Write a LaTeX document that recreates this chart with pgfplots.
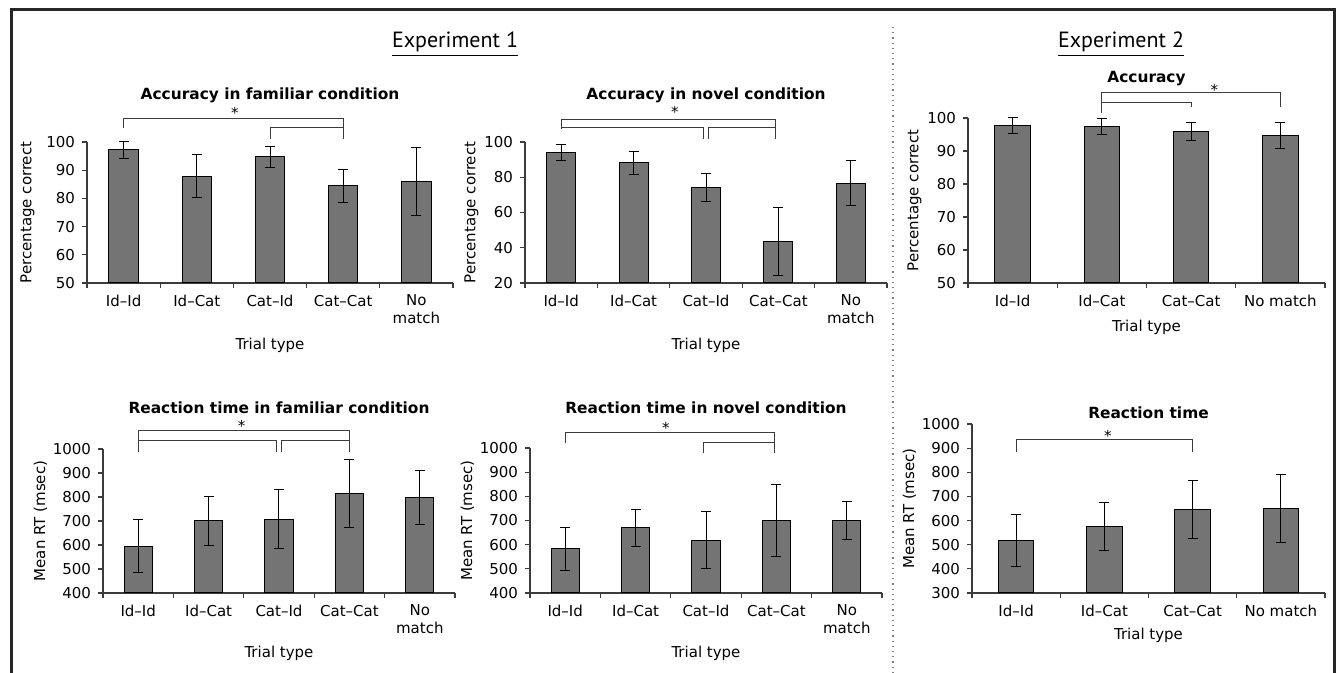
\documentclass[border=0pt]{standalone}
\usepackage{fontspec}
\setmainfont{DejaVu Sans}
\newfontfamily\headfont{PT Sans}
\usepackage{pgfplots}
\pgfplotsset{compat=1.18}

\definecolor{barfill}{RGB}{116,116,116}
\definecolor{axisgray}{RGB}{60,60,60}

\newcommand{\lblfont}{\fontsize{7.5}{8.6}\selectfont}
\newcommand{\ttlfont}{\bfseries\fontsize{7.7}{9}\selectfont}

\tikzset{brk/.style={axisgray, line width=0.5pt}}

\pgfplotsset{
  panel/.style={
    scale only axis, anchor=south west, clip=false,
    ybar, bar width=0.4, xmin=-0.5,
    axis x line*=bottom, axis y line*=left,
    axis line style={-, axisgray, line width=0.6pt},
    tick align=outside, major tick length=2.5pt, minor tick length=2.5pt,
    tick style={axisgray, line width=0.6pt},
    major x tick style={draw=none},
    font=\lblfont, tick label style={font=\lblfont},
    xticklabel style={align=center},
    ylabel shift=-4pt,
    /pgf/number format/assume math mode=true,
    /pgf/number format/1000 sep={},
  },
  five/.style={panel, xmax=4.5, xtick={0,...,4},
    minor xtick={-0.5,0.5,1.5,2.5,3.5,4.5},
    xticklabels={Id--Id, Id--Cat, Cat--Id, Cat--Cat, {No\\match}}},
  four/.style={panel, xmax=3.5, xtick={0,...,3},
    minor xtick={-0.5,0.5,1.5,2.5,3.5},
    xticklabels={Id--Id, Id--Cat, Cat--Cat, No match}},
  bars/.style={fill=barfill, draw=black, line width=0.5pt,
    error bars/.cd, y dir=both, y explicit,
    error bar style={black, line width=0.5pt},
    error mark options={rotate=90, black, mark size=2.5pt, line width=0.5pt}},
}

\begin{document}
\begin{tikzpicture}
\path[use as bounding box] (0,0) rectangle (669pt,336.5pt);
% frame and separator
\draw[line width=1.5pt, black!85] (5.5pt,0) -- (5.5pt,331.5pt) -- (667pt,331.5pt) -- (667pt,0);
\draw[gray, dotted, line width=0.6pt] (446.5pt,323pt) -- (446.5pt,0);
\node[anchor=base, font=\headfont\fontsize{11}{13}\selectfont] at (227.5pt,312.5pt) {\underline{Experiment 1}};
\node[anchor=base, font=\headfont\fontsize{11}{13}\selectfont] at (560.5pt,312.5pt) {\underline{Experiment 2}};

% Accuracy, familiar
\begin{axis}[five, at={(43.5pt,195pt)}, width=183pt, height=70.5pt,
  ymin=50, ymax=100, ytick={50,60,...,100}, ylabel shift=-1pt,
  ylabel={Percentage correct}, xlabel={Trial type},
  xlabel style={at={(rel axis cs:0.5,-0.44)}, anchor=center}]
\addplot[bars] coordinates {(0,97.2) +- (0,3.0) (1,87.9) +- (0,7.5) (2,94.8) +- (0,3.7) (3,84.4) +- (0,5.9) (4,85.9) +- (0,12.1)};
\node[font=\ttlfont] at (rel axis cs:0.5,1.333) {Accuracy in familiar condition};
\draw[brk] (axis cs:0,105) -- (axis cs:0,108.5) -- (axis cs:3,108.5) -- (axis cs:3,101.1);
\draw[brk] (axis cs:2,101.1) -- (axis cs:2,105.3) -- (axis cs:3,105.3);
\node[font=\lblfont, yshift=-1.5pt] at (axis cs:1.52,111.3) {*};
\end{axis}

% Accuracy, novel
\begin{axis}[five, at={(262.5pt,195pt)}, width=181pt, height=70.5pt,
  ymin=20, ymax=100, ytick={20,40,...,100},
  ylabel={Percentage correct}, xlabel={Trial type},
  xlabel style={at={(rel axis cs:0.5,-0.44)}, anchor=center}]
\addplot[bars] coordinates {(0,93.8) +- (0,4.5) (1,88.1) +- (0,6.3) (2,74.1) +- (0,8.0) (3,43.3) +- (0,19.3) (4,76.6) +- (0,12.7)};
\node[font=\ttlfont] at (rel axis cs:0.5,1.333) {Accuracy in novel condition};
\draw[brk] (axis cs:0,107.2) -- (axis cs:0,113) -- (axis cs:2.96,113) -- (axis cs:2.96,101.5);
\draw[brk] (axis cs:0,108.1) -- (axis cs:1.96,108.1) -- (axis cs:1.96,101.5);
\draw[brk] (axis cs:2.03,101.5) -- (axis cs:2.03,108.1) -- (axis cs:2.96,108.1);
\node[font=\lblfont, yshift=-1.5pt] at (axis cs:1.57,118.7) {*};
\end{axis}

% Accuracy, experiment 2
\begin{axis}[four, at={(484pt,195pt)}, width=178.5pt, height=82.5pt,
  ymin=50, ymax=100, ytick={50,60,...,100},
  ylabel={Percentage correct}, xlabel={Trial type},
  xlabel style={at={(rel axis cs:0.5,-0.267)}, anchor=center}]
\addplot[bars] coordinates {(0,97.7) +- (0,2.4) (1,97.5) +- (0,2.4) (2,95.9) +- (0,2.8) (3,94.6) +- (0,3.9)};
\node[font=\ttlfont] at (rel axis cs:0.5,1.242) {Accuracy};
\draw[brk] (axis cs:1,101.6) -- (axis cs:1,107.7) -- (axis cs:3,107.7) -- (axis cs:3,103.4);
\draw[brk] (axis cs:1,104.6) -- (axis cs:2,104.6) -- (axis cs:2,103.4);
\node[font=\lblfont, yshift=-1.5pt] at (axis cs:2.26,109.4) {*};
\end{axis}

% Reaction time, familiar
\begin{axis}[five, at={(51.5pt,40pt)}, width=176pt, height=72pt,
  ymin=400, ymax=1000, ytick={400,500,...,1000},
  ylabel={Mean RT (msec)}, xlabel={Trial type},
  xlabel style={at={(rel axis cs:0.5,-0.417)}, anchor=center}]
\addplot[bars] coordinates {(0,595) +- (0,110) (1,700) +- (0,101) (2,707) +- (0,123) (3,814) +- (0,141) (4,799) +- (0,112)};
\node[font=\ttlfont] at (rel axis cs:0.5,1.285) {Reaction time in familiar condition};
\draw[brk] (axis cs:0,989) -- (axis cs:0,1076) -- (axis cs:3,1076) -- (axis cs:3,989);
\draw[brk] (axis cs:0,1035) -- (axis cs:1.97,1035) -- (axis cs:1.97,989);
\draw[brk] (axis cs:2.03,989) -- (axis cs:2.03,1035) -- (axis cs:3,1035);
\node[font=\lblfont, yshift=-1.5pt] at (axis cs:1.47,1108) {*};
\end{axis}

% Reaction time, novel
\begin{axis}[five, at={(265pt,40pt)}, width=176pt, height=72.5pt,
  ymin=400, ymax=1000, ytick={400,500,...,1000},
  ylabel={Mean RT (msec)}, xlabel={Trial type},
  xlabel style={at={(rel axis cs:0.5,-0.414)}, anchor=center}]
\addplot[bars] coordinates {(0,583) +- (0,89) (1,669) +- (0,76) (2,618) +- (0,118) (3,699) +- (0,150) (4,701) +- (0,78)};
\node[font=\ttlfont] at (rel axis cs:0.5,1.276) {Reaction time in novel condition};
\draw[brk] (axis cs:0,1019) -- (axis cs:0,1063) -- (axis cs:2.97,1063) -- (axis cs:2.97,978);
\draw[brk] (axis cs:1.96,978) -- (axis cs:1.96,1024) -- (axis cs:2.97,1024);
\node[font=\lblfont, yshift=-1.5pt] at (axis cs:1.43,1095) {*};
\end{axis}

% Reaction time, experiment 2
\begin{axis}[four, at={(486pt,40pt)}, width=176.5pt, height=84.5pt,
  ymin=300, ymax=1000, ytick={300,400,...,1000},
  ylabel={Mean RT (msec)}, xlabel={Trial type},
  xlabel style={at={(rel axis cs:0.5,-0.249)}, anchor=center}]
\addplot[bars] coordinates {(0,516) +- (0,108) (1,574) +- (0,100) (2,647) +- (0,120) (3,651) +- (0,141)};
\node[font=\ttlfont] at (rel axis cs:0.5,1.065) {Reaction time};
\draw[brk] (axis cs:0,885) -- (axis cs:0,934) -- (axis cs:2,934) -- (axis cs:2,885);
\node[font=\lblfont, yshift=-1.5pt] at (axis cs:1.04,963) {*};
\end{axis}
\end{tikzpicture}
\end{document}
